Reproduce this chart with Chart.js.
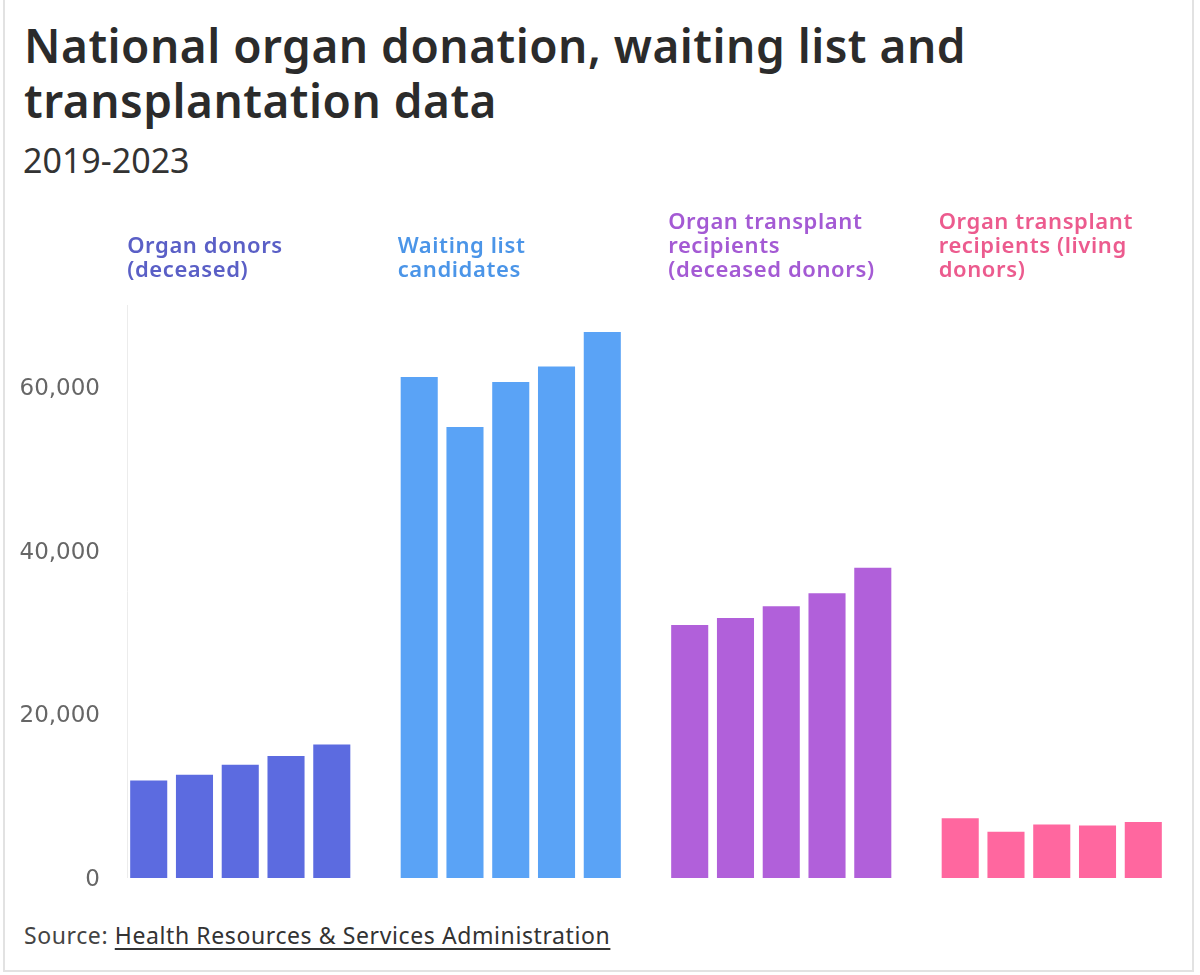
<!DOCTYPE html>
<html><head><meta charset="utf-8">
<script src="https://cdn.jsdelivr.net/npm/chart.js@4"></script>
<style>
html,body{margin:0;padding:0;background:#fff;}
body{width:1200px;height:975px;position:relative;overflow:hidden;font-family:"Noto Sans",sans-serif;}
#frame{position:absolute;left:3px;top:-3px;width:1191px;height:975px;border:2px solid #e2e2e2;box-sizing:border-box;}
#title{position:absolute;left:24px;top:18px;font-size:46px;font-weight:600;line-height:55px;color:#2b2b2b;letter-spacing:0.5px;}
#sub{position:absolute;left:23px;top:137px;font-size:34px;color:#333;}
#src{position:absolute;left:24px;top:919px;font-size:23px;color:#444;letter-spacing:0.6px;}
#src span{color:#333;text-decoration:underline;text-underline-offset:4px;}
#c{position:absolute;left:0;top:0;}
</style></head>
<body>
<div id="frame"></div>
<div id="title">National organ donation, waiting list and<br>transplantation data</div>
<div id="sub">2019-2023</div>
<div id="src">Source: <span>Health Resources &amp; Services Administration</span></div>
<canvas id="c" width="1200" height="975"></canvas>
<script>
const years = ['2019', '2020', '2021', '2022', '2023'];
const groupLabels = [
  ['Organ donors', '(deceased)'],
  ['Waiting list', 'candidates'],
  ['Organ transplant', 'recipients', '(deceased donors)'],
  ['Organ transplant', 'recipients (living', 'donors)']
];
const donorsDeceased = [11900, 12600, 13850, 14900, 16300];
const waitingList = [61200, 55100, 60600, 62500, 66700];
const recipientsDeceased = [30900, 31750, 33200, 34800, 37900];
const recipientsLiving = [7300, 5650, 6550, 6400, 6850];
const yTicks = [0, 20000, 40000, 60000];
const barColors = ['#5c6be0', '#5aa3f6', '#b160da', '#ff679f'];
const labelColors = ['#5a5fc6', '#4b95e8', '#a45ad4', '#ec5b8e'];

const series = [donorsDeceased, waitingList, recipientsDeceased, recipientsLiving];
const datasets = years.map((yr, i) => ({
  label: yr,
  data: series.map(s => s[i]),
  backgroundColor: barColors,
  borderWidth: 0,
  categoryPercentage: 0.846,
  barPercentage: 0.81
}));

const groupLabelPlugin = {
  id: 'groupLabels',
  afterDraw(chart) {
    const ctx = chart.ctx;
    const meta = chart.getDatasetMeta(0);
    const top = chart.chartArea.top;
    ctx.save();
    ctx.font = '600 22px "Noto Sans", sans-serif';
    try { ctx.letterSpacing = '0.6px'; } catch (e) {}
    ctx.textAlign = 'left';
    ctx.textBaseline = 'alphabetic';
    groupLabels.forEach((lines, i) => {
      const bar = meta.data[i];
      const x = bar.x - bar.width / 2 - 3;
      ctx.fillStyle = labelColors[i];
      const n = lines.length;
      lines.forEach((ln, j) => {
        ctx.fillText(ln, x, top - 28 - (n - 1 - j) * 24);
      });
    });
    ctx.restore();
  },
  beforeDatasetsDraw(chart) {
    const ctx = chart.ctx;
    const {left, top, bottom} = chart.chartArea;
    ctx.save();
    ctx.strokeStyle = '#ececec';
    ctx.lineWidth = 1;
    ctx.beginPath();
    ctx.moveTo(left + 22.5, top);
    ctx.lineTo(left + 22.5, bottom);
    ctx.stroke();
    ctx.restore();
  }
};

new Chart(document.getElementById('c'), {
  type: 'bar',
  data: { labels: groupLabels.map(l => l.join(' ')), datasets },
  options: {
    responsive: false,
    animation: false,
    devicePixelRatio: 1,
    layout: { padding: { top: 305, bottom: 97, left: 0, right: 13 } },
    plugins: { legend: { display: false }, tooltip: { enabled: false }, title: { display: false } },
    scales: {
      x: { display: false, offset: true },
      y: {
        min: 0, max: 70000,
        grid: { display: false },
        border: { display: false },
        afterBuildTicks(scale) { scale.ticks = yTicks.map(v => ({ value: v })); },
        afterFit(scale) { scale.width = 105; },
        ticks: {
          padding: -3,
          labelOffset: 2,
          autoSkip: false,
          color: '#666',
          font: { family: '"DejaVu Sans", sans-serif', size: 23 },
          callback: v => Number(v).toLocaleString('en-US')
        }
      }
    }
  },
  plugins: [groupLabelPlugin]
});
</script>
</body></html>
